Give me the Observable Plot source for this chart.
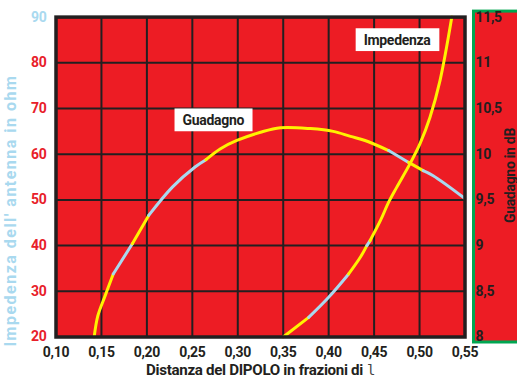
<!DOCTYPE html>
<html><head><meta charset="utf-8">
<script src="https://cdn.jsdelivr.net/npm/d3@7"></script>
<script src="https://cdn.jsdelivr.net/npm/@observablehq/plot@0.6"></script>
<style>
html,body{margin:0;padding:0;background:#fff;overflow:hidden;}
svg text{font-family:Roboto,"DejaVu Sans Condensed",sans-serif;letter-spacing:-0.3px;}
</style></head><body><div id="chart"></div>
<script>
// ---- data ----
const xTicks = [0.10, 0.15, 0.20, 0.25, 0.30, 0.35, 0.40, 0.45, 0.50, 0.55];
const ohmTicks = [20, 30, 40, 50, 60, 70, 80, 90];
const dbTicks = [8, 8.5, 9, 9.5, 10, 10.5, 11, 11.5];

// Guadagno (gain, dB) vs distance (fractions of lambda)
const gainX  = [0.142, 0.146, 0.154, 0.163, 0.184, 0.202, 0.228, 0.253, 0.265, 0.281, 0.299, 0.325, 0.347, 0.380, 0.405, 0.424, 0.440, 0.466, 0.488, 0.504, 0.515, 0.550];
const gainDb = [8.00, 8.23, 8.45, 8.69, 9.02, 9.33, 9.64, 9.86, 9.94, 10.06, 10.15, 10.24, 10.29, 10.28, 10.25, 10.195, 10.15, 10.04, 9.91, 9.82, 9.765, 9.515];
// tone of the stretch ending at each point (Y yellow, B light blue)
const gainTone = ["Y", "Y", "Y", "Y", "B", "Y", "B", "B", "B", "Y", "Y", "Y", "Y", "Y", "Y", "Y", "Y", "Y", "B", "Y", "B", "B"];

// Impedenza (ohm) vs distance
const impX   = [0.350, 0.378, 0.400, 0.422, 0.435, 0.442, 0.4456, 0.457, 0.466, 0.475, 0.490, 0.5005, 0.5115, 0.5225, 0.5355];
const impOhm = [20, 24.3, 28.7, 33.8, 37.5, 40.0, 41.1, 45.5, 49.5, 52.8, 58.1, 62.3, 68.1, 76.1, 90];
const impTone = ["Y", "Y", "B", "B", "Y", "Y", "B", "Y", "Y", "Y", "Y", "Y", "Y", "Y", "Y"];

const labelText = ["Guadagno", "Impedenza"];
const labelX = [0.2731, 0.4753];
const labelY = [67.4, 84.95];

// ---- helpers ----
const dbToOhm = d => 20 + (d - 8) * 20; // 8 dB at 20 ohm, 0.5 dB per 10 ohm

function segments(xs, ys, tones, name) {
  const rows = [];
  let seg = 0;
  for (let i = 1; i < xs.length; i++) {
    if (i === 1 || tones[i] !== tones[i - 1]) {
      seg++;
      rows.push({x: xs[i - 1], y: ys[i - 1], tone: tones[i], seg: name + seg});
    }
    rows.push({x: xs[i], y: ys[i], tone: tones[i], seg: name + seg});
  }
  return rows;
}
const gainRows = segments(gainX, gainDb.map(dbToOhm), gainTone, "g");
const impRows = segments(impX, impOhm, impTone, "i");
const labels = labelText.map((t, i) => ({t, x: labelX[i], y: labelY[i]}));

const RED = "#ed1c24", DARK = "#231f20", BLUE = "#a9d9ef", YEL = "#fff200";
const fmt = v => String(+v.toFixed(2)).replace(".", ",");
const fmtX = v => v.toFixed(2).replace(".", ",");
const F = "Roboto, sans-serif";

const chart = Plot.plot({
  width: 517, height: 378,
  marginLeft: 55.5, marginRight: 52.5, marginTop: 16.6, marginBottom: 41.5,
  x: {domain: [0.10, 0.55]},
  y: {domain: [20, 90]},
  color: {domain: ["Y", "B"], range: [YEL, BLUE]},
  marks: [
    Plot.frame({fill: RED}),
    Plot.gridX(xTicks, {stroke: DARK, strokeOpacity: 1, strokeWidth: 2}),
    Plot.gridY(ohmTicks, {stroke: DARK, strokeOpacity: 1, strokeWidth: 2}),
    Plot.line(gainRows, {x: "x", y: "y", z: "seg", stroke: "tone", strokeWidth: 3, curve: "catmull-rom"}),
    Plot.line(impRows, {x: "x", y: "y", z: "seg", stroke: "tone", strokeWidth: 3, curve: "catmull-rom"}),
    Plot.frame({stroke: DARK, strokeWidth: 3.5}),
    Plot.axisX(xTicks, {tickSize: 0, tickPadding: 10, tickFormat: fmtX, label: null, fontSize: 14, fontWeight: "bold", fill: DARK, fontFamily: F}),
    Plot.axisY(ohmTicks.filter(v => v < 90), {anchor: "left", tickSize: 0, tickPadding: 9.5, label: null, fontSize: 14, fontWeight: "bold", fill: "#e8202a", fontFamily: F}),
    Plot.axisY(ohmTicks.filter(v => v >= 90), {anchor: "left", tickSize: 0, tickPadding: 9.5, label: null, fontSize: 14, fontWeight: "bold", fill: BLUE, fontFamily: F}),
    Plot.axisY(dbTicks.map(dbToOhm), {anchor: "right", tickSize: 0, tickPadding: 10.5, label: null, tickFormat: v => fmt(8 + (v - 20) / 20), fontSize: 14, fontWeight: "bold", fill: DARK, fontFamily: F}),
    Plot.text(labels, {x: "x", y: "y", text: "t", fontSize: 14, fontWeight: "bold", fill: DARK, fontFamily: F})
  ]
});
document.getElementById("chart").appendChild(chart);

const svg = d3.select(chart);
const sx = chart.scale("x"), sy = chart.scale("y");
const xL = sx.apply(0.10), xR = sx.apply(0.55), yT = sy.apply(90), yB = sy.apply(20);

// right gain panel (green bordered), behind everything
svg.insert("rect", "g")
  .attr("x", xR + 9).attr("y", yT - 5.5).attr("width", 80).attr("height", yB - yT + 11)
  .attr("fill", RED).attr("stroke", "#00a651").attr("stroke-width", 3);

// white boxes behind curve labels
chart.querySelectorAll("text").forEach(t => {
  if (labelText.includes(t.textContent.trim())) {
    const bb = t.getBBox();
    const node = document.createElementNS("http://www.w3.org/2000/svg", "rect");
    node.setAttribute("x", bb.x - 8);
    node.setAttribute("y", bb.y - 3.4);
    node.setAttribute("width", bb.width + 16);
    node.setAttribute("height", bb.height + 6.8);
    node.setAttribute("fill", "#ffffff");
    const tr = t.getAttribute("transform");
    if (tr) node.setAttribute("transform", tr);
    t.parentNode.insertBefore(node, t);
  }
});

// axis titles
svg.append("text")
  .attr("transform", `translate(16,${(yT + yB) / 2 + 35}) rotate(-90)`)
  .attr("text-anchor", "middle").attr("font-size", 16).attr("font-weight", "bold")
  .attr("fill", BLUE).attr("textLength", 270).attr("lengthAdjust", "spacing")
  .text("Impedenza dell' antenna in ohm");

svg.append("text")
  .attr("transform", `translate(${xR + 50},${(yT + yB) / 2 - 1}) rotate(-90)`)
  .attr("text-anchor", "middle").attr("font-size", 14).attr("font-weight", "bold")
  .attr("fill", DARK)
  .text("Guadagno in dB");

const xt = svg.append("text")
  .attr("x", 146).attr("y", 375)
  .attr("text-anchor", "start").attr("font-size", 14).attr("font-weight", "bold")
  .attr("fill", DARK);
xt.append("tspan").attr("textLength", 217).attr("lengthAdjust", "spacingAndGlyphs").text("Distanza del DIPOLO in frazioni di");
xt.append("tspan").attr("dx", 4).attr("font-family", "DejaVu Sans Mono").attr("font-weight", "normal").attr("fill", "#444").text("l");
</script></body></html>
